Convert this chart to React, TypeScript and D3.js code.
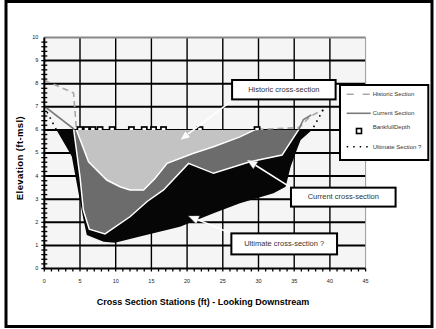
import React from "react";
import * as d3 from "d3";

// Axis ticks
const stationTicks = [0, 5, 10, 15, 20, 25, 30, 35, 40, 45];
const elevationTicks = [0, 1, 2, 3, 4, 5, 6, 7, 8, 9, 10];

// Historic cross-section (station ft, elevation ft-msl)
const historicStations = [0, 4.1, 4.5, 6.2, 8.75, 10.6, 12.0, 13.9, 15.5, 17.2, 20.9, 23.7, 27.4, 29.6, 35.7, 37.3, 39.1];
const historicElev = [8.15, 7.6, 6.0, 4.62, 3.83, 3.54, 3.4, 3.4, 3.9, 4.55, 4.99, 5.27, 5.7, 6.02, 6.1, 6.6, 6.88];

// Current cross-section
const currentStations = [0, 4.1, 5.0, 5.47, 6.3, 8.5, 12.0, 14.4, 16.7, 20.2, 23.7, 28.8, 33.3, 35.6, 36.3, 37.4];
const currentElev = [7.03, 6.05, 3.97, 2.53, 1.7, 1.5, 2.24, 2.9, 3.4, 4.55, 4.12, 4.62, 4.91, 6.0, 6.45, 6.65];

// Ultimate cross-section
const ultimateStations = [0, 1.7, 3.4, 3.85, 5.5, 5.95, 8.3, 9.9, 13.4, 19.0, 23.7, 27.4, 32.1, 33.8, 34.5, 35.2, 35.9, 37.5, 39.2];
const ultimateElev = [7.0, 6.0, 5.1, 4.85, 2.1, 1.45, 1.16, 1.12, 1.38, 1.81, 2.39, 2.82, 3.26, 3.54, 4.41, 5.0, 5.56, 6.0, 6.95];

// Bankfull depth markers
const bankfullStations = [5.0, 5.9, 6.8, 7.8, 9.5, 12.2, 14.0, 15.3, 16.7, 21.8, 29.8];
const bankfullElev = [6, 6, 6, 6, 6, 6, 6, 6, 6, 6, 6];

// Callout labels: text, box corners (station/elevation), arrow start and tip
const calloutTexts = ["Historic cross-section", "Current cross-section", "Ultimate cross-section ?"];
const calloutBoxes = [
  [26.3, 8.16, 40.8, 7.32],
  [34.55, 3.5, 49.2, 2.68],
  [26.2, 1.52, 41.0, 0.61],
];
const calloutArrows = [
  [26.5, 7.32, 19.0, 5.55],
  [34.55, 3.5, 28.4, 4.7],
  [26.2, 1.52, 20.2, 2.27],
];

const legendLabels = ["Historic Section", "Current Section", "BankfullDepth", "Ultimate Section ?"];

const W = 436;
const H = 329;
const FONT = "'Liberation Sans', Arial, sans-serif";

const x = d3.scaleLinear().domain([0, 45]).range([44.3, 365.6]);
const y = d3.scaleLinear().domain([0, 10]).range([268.5, 37.5]);

const zip = (xs: number[], ys: number[]) => xs.map((v, i) => [v, ys[i]] as [number, number]);
const line = d3.line<[number, number]>().x((d) => x(d[0])).y((d) => y(d[1]));

function Arrow({ a }: { a: number[] }) {
  const x1 = x(a[0]), y1 = y(a[1]), x2 = x(a[2]), y2 = y(a[3]);
  const ang = Math.atan2(y2 - y1, x2 - x1);
  const len = 10, hw = 4.2;
  const bx = x2 - len * Math.cos(ang), by = y2 - len * Math.sin(ang);
  const px = -Math.sin(ang) * hw, py = Math.cos(ang) * hw;
  return (
    <g>
      <line x1={x1} y1={y1} x2={bx} y2={by} stroke="#fff" strokeWidth={1.6} />
      <polygon
        points={`${x2},${y2} ${bx + px},${by + py} ${bx - px},${by - py}`}
        fill="#fff"
        stroke="#aaa"
        strokeWidth={0.4}
      />
    </g>
  );
}

export default function App() {
  const historic = zip(historicStations, historicElev);
  const current = zip(currentStations, currentElev);
  const ultimate = zip(ultimateStations, ultimateElev);
  const bankfull = zip(bankfullStations, bankfullElev);

  const minorY = d3.range(0, 50).map((i) => i * 0.2);
  const minorX = d3.range(0, 46);

  const y6 = y(6);

  return (
    <svg
      width={W}
      height={H}
      style={{ position: "absolute", left: 0, top: 0, fontFamily: FONT }}
    >
      <defs>
        <clipPath id="below">
          <rect x={x(0)} y={y6} width={x(45) - x(0)} height={y(0) - y6} />
        </clipPath>
        <clipPath id="above">
          <rect x={x(0)} y={y(10)} width={x(45) - x(0)} height={y6 - y(10)} />
        </clipPath>
      </defs>

      <rect x={0} y={0} width={W} height={H} fill="#fff" />
      {/* outer frame */}
      <rect x={6} y={1.5} width={426} height={325} fill="none" stroke="#000" strokeWidth={3} />

      {/* plot area */}
      <rect x={x(0)} y={y(10)} width={x(45) - x(0)} height={y(0) - y(10)} fill="#f5f5f5" />

      {/* grid */}
      {elevationTicks.filter((t) => t > 0 && t < 10).map((t) => (
        <line key={"h" + t} x1={x(0)} x2={x(45)} y1={y(t)} y2={y(t)} stroke="#000" strokeWidth={2} />
      ))}
      {stationTicks.filter((t) => t > 0 && t < 45).map((t) => (
        <line key={"v" + t} x1={x(t)} x2={x(t)} y1={y(0)} y2={y(10)} stroke="#000" strokeWidth={1.4} />
      ))}
      <line x1={x(0)} x2={x(45)} y1={y(10)} y2={y(10)} stroke="#888" strokeWidth={2} />
      <line x1={x(45)} x2={x(45)} y1={y(0)} y2={y(10)} stroke="#999" strokeWidth={1} />

      {/* section lines above bank level */}
      <g clipPath="url(#above)" fill="none">
        <path d={line(historic) || ""} stroke="#a8a8a8" strokeWidth={1.6} strokeDasharray="6 4" />
        <path d={line(current) || ""} stroke="#7a7a7a" strokeWidth={1.6} />
        <path d={line(ultimate) || ""} stroke="#000" strokeWidth={1.6} strokeDasharray="1.5 4.5" />
      </g>

      {/* bankfull depth markers */}
      {bankfull.map((d, i) => (
        <rect
          key={"b" + i}
          x={x(d[0]) - 2.6}
          y={y(d[1]) - 2.9}
          width={5.2}
          height={5.2}
          fill="#fff"
          stroke="#000"
          strokeWidth={1.7}
        />
      ))}

      {/* filled sections below bank level */}
      <g clipPath="url(#below)">
        <path d={(line(ultimate) || "") + "Z"} fill="#060606" />
        <path d={(line(current) || "") + "Z"} fill="#6c6c6c" stroke="#fff" strokeWidth={1.5} />
        <path d={(line(historic) || "") + "Z"} fill="#c3c3c3" stroke="#fff" strokeWidth={1.5} />
      </g>

      {/* axes */}
      <line x1={x(0)} x2={x(0)} y1={y(0) + 1} y2={y(10)} stroke="#000" strokeWidth={2} />
      {minorY.map((t, i) => (
        <line key={"my" + i} x1={x(0) - 3} x2={x(0) + 3} y1={y(t)} y2={y(t)} stroke="#000" strokeWidth={1.3} />
      ))}
      <line x1={x(0)} x2={x(45)} y1={y(0)} y2={y(0)} stroke="#000" strokeWidth={2} />
      {minorX.map((t) => (
        <line key={"mx" + t} x1={x(t)} x2={x(t)} y1={y(0)} y2={y(0) + 3} stroke="#000" strokeWidth={1.3} />
      ))}

      {/* tick labels */}
      {elevationTicks.map((t) => (
        <text key={"yl" + t} x={x(0) - 6} y={y(t)} fontSize={5.5} fill="#222" textAnchor="end" dominantBaseline="middle">
          {t}
        </text>
      ))}
      {stationTicks.map((t) => (
        <text key={"xl" + t} x={x(t)} y={281.5} fontSize={5.5} fill="#222" textAnchor="middle" dominantBaseline="middle">
          {t}
        </text>
      ))}

      {/* axis titles */}
      <text x={203} y={303} fontSize={9} fontWeight="bold" textAnchor="middle" dominantBaseline="middle">
        Cross Section Stations (ft) - Looking Downstream
      </text>
      <text
        transform="translate(20,158) rotate(-90)"
        fontSize={9.5}
        fontWeight="bold"
        letterSpacing={0.4}
        textAnchor="middle"
        dominantBaseline="middle"
      >
        Elevation (ft-msl)
      </text>

      {/* callouts */}
      {calloutArrows.map((a, i) => (
        <Arrow key={"a" + i} a={a} />
      ))}
      {calloutBoxes.map((b, i) => {
        const x0 = x(b[0]), y0 = y(b[1]), x1 = x(b[2]), y1 = y(b[3]);
        return (
          <g key={"c" + i}>
            <rect x={x0} y={y0} width={x1 - x0} height={y1 - y0} fill="#fff" stroke="#000" strokeWidth={2} />
            <text x={(x0 + x1) / 2} y={(y0 + y1) / 2} fontSize={7.5} fill="#333" textAnchor="middle" dominantBaseline="middle">
              {calloutTexts[i]}
            </text>
          </g>
        );
      })}

      {/* legend */}
      <g>
        <rect x={340} y={85} width={88.3} height={75} fill="#fff" stroke="#000" strokeWidth={2} />
        <line x1={346.7} x2={370} y1={94.3} y2={94.3} stroke="#a8a8a8" strokeWidth={1.6} strokeDasharray="7 9" />
        <line x1={346.7} x2={370.7} y1={113.3} y2={113.3} stroke="#7a7a7a" strokeWidth={1.6} />
        <rect x={356.5} y={128.5} width={5} height={5} fill="#fff" stroke="#000" strokeWidth={1.6} />
        <line x1={346.7} x2={369} y1={146.7} y2={146.7} stroke="#000" strokeWidth={1.6} strokeDasharray="1.5 5" />
        {[94.3, 113.3, 127.5, 147].map((ty, i) => (
          <text key={"lg" + i} x={372.7} y={ty} fontSize={6} fill="#333" dominantBaseline="middle">
            {legendLabels[i]}
          </text>
        ))}
      </g>
    </svg>
  );
}
